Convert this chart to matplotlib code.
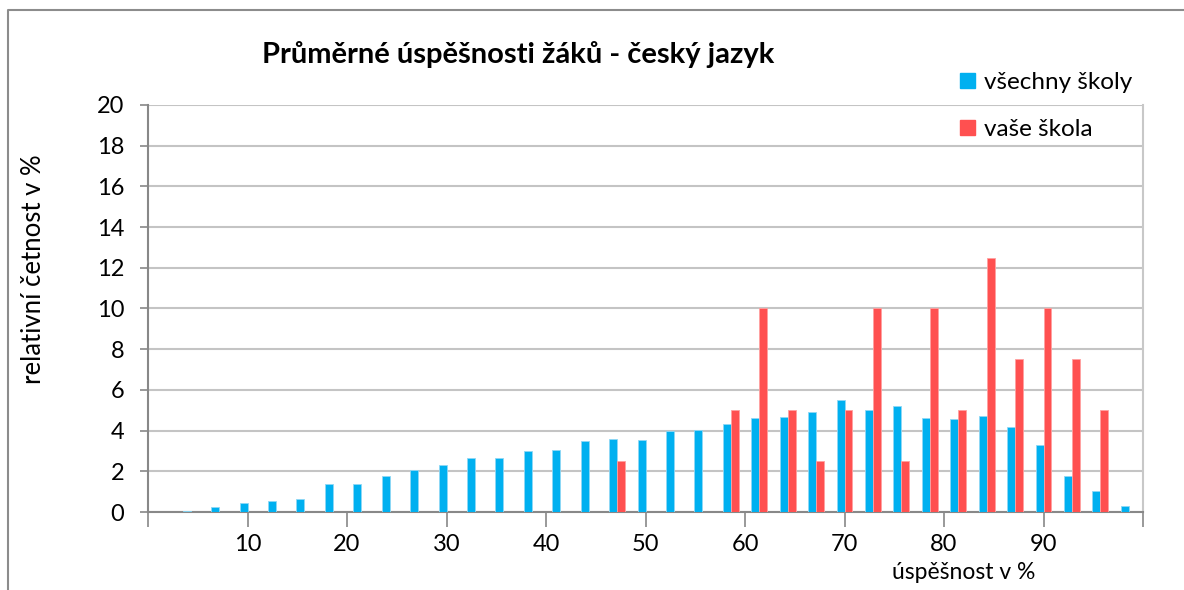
import numpy as np
import matplotlib.pyplot as plt
from matplotlib.lines import Line2D
from matplotlib.patches import Patch

plt.rcParams['font.family'] = ['Lato', 'DejaVu Sans']

# relative frequency (%) in 35 bins spanning 0..100 % success
all_schools = [0, 0.05, 0.25, 0.44, 0.54, 0.64, 1.36, 1.36, 1.79, 2.08, 2.31, 2.64,
               2.64, 2.98, 3.07, 3.51, 3.61, 3.56, 3.97, 4.03, 4.30, 4.61, 4.69, 4.89,
               5.48, 5.03, 5.23, 4.62, 4.59, 4.72, 4.20, 3.31, 1.75, 1.05, 0.28]
your_school = [0, 0, 0, 0, 0, 0, 0, 0, 0, 0, 0, 0,
               0, 0, 0, 0, 2.5, 0, 0, 0, 5, 10, 5, 2.5,
               5, 10, 2.5, 10, 5, 12.5, 7.5, 10, 7.5, 5, 0]
x_ticks = [0, 10, 20, 30, 40, 50, 60, 70, 80, 90, 100]
x_tick_labels = ['', '10', '20', '30', '40', '50', '60', '70', '80', '90', '']
y_ticks = [0, 2, 4, 6, 8, 10, 12, 14, 16, 18, 20]

n = len(all_schools)
centers = (np.arange(n) + 0.5) * 100.0 / n
w = 0.8

fig = plt.figure(figsize=(11.84, 5.9), dpi=100)
ax = fig.add_axes([0.125, 0.1322, 0.8404, 0.690])

ax.bar(centers - w / 2, all_schools, width=w, color='#00B0F0', edgecolor='#8fd8f5',
       linewidth=0.6, zorder=3, label='všechny školy')
ax.bar(centers + w / 2, your_school, width=w, color='#FF5050', edgecolor='#ffa0a0',
       linewidth=0.6, zorder=3, label='vaše škola')

ax.set_xlim(0, 100)
ax.set_ylim(0, 20)
ax.set_yticks(y_ticks)
ax.set_xticks(x_ticks)
ax.set_xticklabels(x_tick_labels)
ax.grid(axis='y', color='#c4c4c4', linewidth=1.5, zorder=0)
ax.set_axisbelow(True)

ax.spines['top'].set_visible(False)
ax.spines['right'].set_color('#c8c8c8')
ax.spines['right'].set_linewidth(1.5)
ax.spines['left'].set_color('#888888')
ax.spines['left'].set_linewidth(1.5)
ax.spines['bottom'].set_color('#888888')
ax.spines['bottom'].set_linewidth(1.5)

ax.tick_params(axis='y', length=6, width=1.2, color='#888888', pad=11, labelsize=17)
ax.tick_params(axis='x', length=11, width=1.2, color='#888888', pad=5, labelsize=17)

ax.set_ylabel('relativní četnost v %', fontsize=18.5)
ax.yaxis.set_label_coords(-0.103, 0.597)
fig.text(0.814, 0.012, 'úspěšnost v %', fontsize=16.5, ha='center', va='bottom')

fig.text(0.4375, 0.907, 'Průměrné úspěšnosti žáků - český jazyk', fontsize=21,
         fontweight='bold', ha='center', va='center')

handles = [Patch(color='#00B0F0'), Patch(color='#FF5050')]
fig.legend(handles, ['všechny školy', 'vaše škola'], loc='upper left',
           bbox_to_anchor=(960 / 1184, 1 - 72 / 590), frameon=False, fontsize=17.5,
           handlelength=0.6, handleheight=0.6, handletextpad=0.4,
           labelspacing=1.08, borderpad=0, borderaxespad=0)

# outer chart border
bx = 8 / 1184
by = 1 - 10 / 590
fig.add_artist(Line2D([bx, bx, 1], [0, by, by], transform=fig.transFigure,
                      color='#8c8c8c', linewidth=1.5))

plt.savefig('out.png', dpi=100)
